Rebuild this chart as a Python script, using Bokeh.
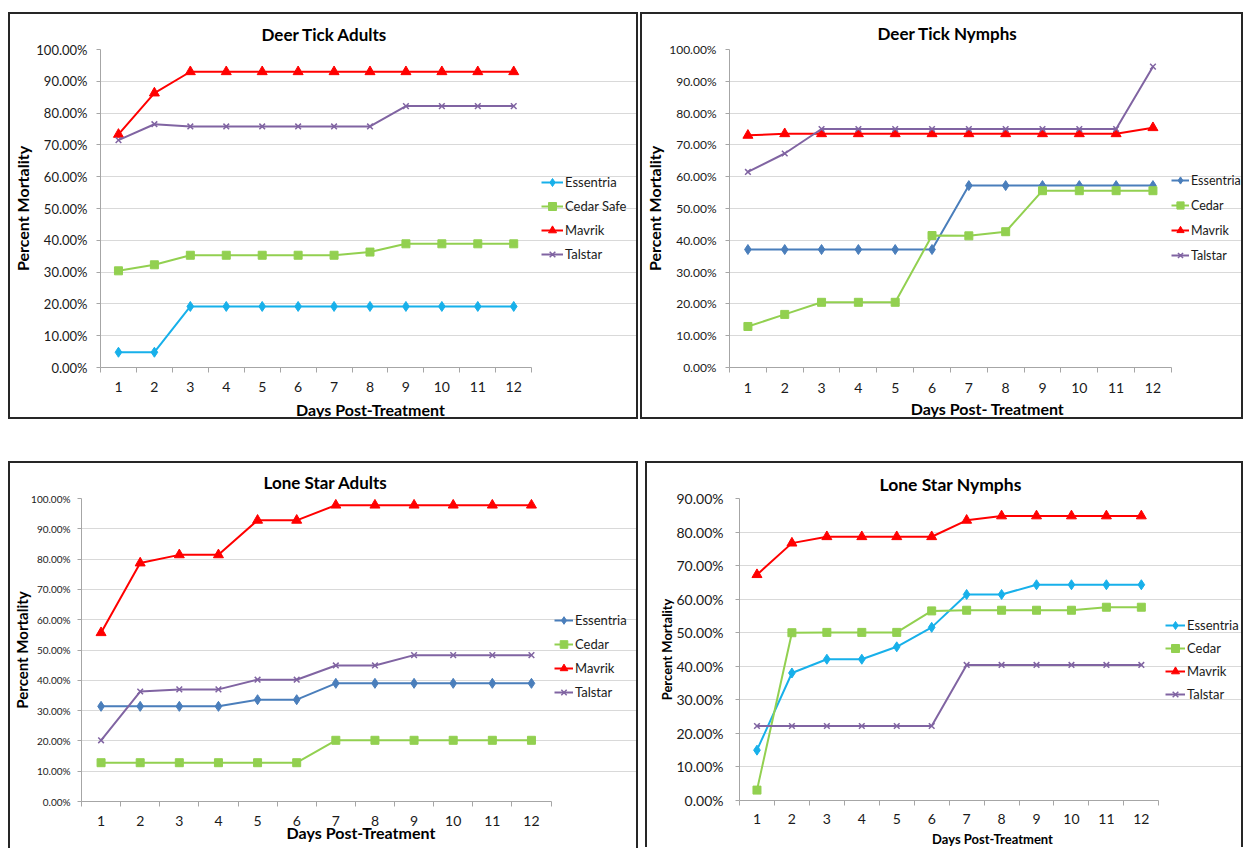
from bokeh.plotting import figure
from bokeh.models import Range1d, FixedTicker, PrintfTickFormatter, Legend, LegendItem, Spacer
from bokeh.layouts import row, column
from bokeh.embed import file_html
from bokeh.resources import INLINE

days = list(range(1, 13))
day_labels = [str(d) for d in days]

# Deer Tick Adults
dta_essentria = [4.8, 4.8, 19.2, 19.2, 19.2, 19.2, 19.2, 19.2, 19.2, 19.2, 19.2, 19.2]
dta_cedar = [30.4, 32.3, 35.3, 35.3, 35.3, 35.3, 35.3, 36.3, 38.9, 38.9, 38.9, 38.9]
dta_mavrik = [73.3, 86.3, 93.0, 93.0, 93.0, 93.0, 93.0, 93.0, 93.0, 93.0, 93.0, 93.0]
dta_talstar = [71.5, 76.5, 75.8, 75.8, 75.8, 75.8, 75.8, 75.8, 82.2, 82.2, 82.2, 82.2]

# Deer Tick Nymphs
dtn_essentria = [37.1, 37.1, 37.1, 37.1, 37.1, 37.1, 57.2, 57.2, 57.2, 57.2, 57.2, 57.2]
dtn_cedar = [12.9, 16.7, 20.5, 20.5, 20.5, 41.5, 41.4, 42.7, 55.6, 55.6, 55.6, 55.6]
dtn_mavrik = [73.0, 73.5, 73.5, 73.5, 73.5, 73.5, 73.5, 73.5, 73.5, 73.5, 73.5, 75.4]
dtn_talstar = [61.5, 67.3, 75.0, 75.0, 75.0, 75.0, 75.0, 75.0, 75.0, 75.0, 75.0, 94.6]

# Lone Star Adults
lsa_essentria = [31.4, 31.4, 31.4, 31.4, 33.6, 33.6, 39.0, 39.0, 39.0, 39.0, 39.0, 39.0]
lsa_cedar = [12.8, 12.8, 12.8, 12.8, 12.8, 12.8, 20.2, 20.2, 20.2, 20.2, 20.2, 20.2]
lsa_mavrik = [55.7, 78.7, 81.4, 81.4, 92.8, 92.8, 97.8, 97.8, 97.8, 97.8, 97.8, 97.8]
lsa_talstar = [20.2, 36.3, 37.0, 37.0, 40.2, 40.2, 44.9, 44.9, 48.3, 48.3, 48.3, 48.3]

# Lone Star Nymphs
lsn_essentria = [15.0, 38.0, 42.1, 42.1, 45.8, 51.6, 61.4, 61.4, 64.3, 64.3, 64.3, 64.3]
lsn_cedar = [3.1, 50.0, 50.1, 50.1, 50.1, 56.5, 56.7, 56.7, 56.7, 56.7, 57.6, 57.6]
lsn_mavrik = [67.3, 76.7, 78.6, 78.6, 78.6, 78.6, 83.5, 84.8, 84.8, 84.8, 84.8, 84.8]
lsn_talstar = [22.2, 22.2, 22.2, 22.2, 22.2, 22.2, 40.4, 40.4, 40.4, 40.4, 40.4, 40.4]

FONT = "Lato"
LIGHT_BLUE = "#17B0EA"
STEEL_BLUE = "#4A7EBB"
GREEN = "#92D050"
RED = "#FF0000"
PURPLE = "#8064A2"
AXIS_GRAY = "#A6A6A6"
GRID_GRAY = "#D9D9D9"

MARKERS = {"Essentria": ("diamond", 10), "Cedar": ("square", 8), "Mavrik": ("triangle", 10), "Talstar": ("x", 8)}


def make_panel(title, xlabel, series, ymax, w, h, mbl, mbt, mbb, data_w, title_fs, title_offset,
               title_standoff, ytick_fs, ytick_standoff, ylab_fs, ylab_standoff,
               xtick_fs, xtick_standoff, xlab_fs, xlab_standoff,
               legend_loc, legend_spacing, legend_fs, glyph_w, bottom_border=True):
    cw = w - 4
    ch = h - 4 if bottom_border else h - 2
    frame_w = cw - mbl
    x_end = 0.5 + 12.0 * frame_w / data_w
    p = figure(width=cw, height=ch, output_backend="svg", toolbar_location=None,
               x_range=Range1d(0.5, x_end), y_range=Range1d(0, ymax),
               min_border_left=mbl, min_border_right=0, min_border_top=mbt, min_border_bottom=mbb)
    border = {"border": "2px solid #262626", "box-sizing": "content-box"}
    if not bottom_border:
        border["border-bottom"] = "none"
    p.styles = border
    p.outline_line_color = None
    p.background_fill_color = "white"
    p.border_fill_color = "white"

    p.title.text = title
    p.title.align = "left"
    p.title.text_font = FONT
    p.title.text_font_style = "bold"
    p.title.text_font_size = title_fs
    p.title.text_color = "#000000"
    p.title.offset = title_offset
    p.title.standoff = title_standoff

    items = []
    for name, label, vals, color in series:
        marker, size = MARKERS[name]
        lr = p.line(days, vals, line_color=color, line_width=2)
        sr = p.scatter(days, vals, marker=marker, size=size, fill_color=color, line_color=color,
                       line_width=1.5 if marker == "x" else 1)
        items.append(LegendItem(label=label, renderers=[lr, sr]))

    # x axis
    xa = p.xaxis[0]
    xa.bounds = (0.5, 12.5)
    xa.ticker = FixedTicker(ticks=days, minor_ticks=[d + 0.5 for d in range(0, 13)])
    xa.major_label_overrides = {d: s for d, s in zip(days, day_labels)}
    xa.major_tick_line_color = None
    xa.major_tick_out = 0
    xa.major_tick_in = 0
    xa.minor_tick_line_color = AXIS_GRAY
    xa.minor_tick_out = 5
    xa.minor_tick_in = 0
    xa.axis_line_color = AXIS_GRAY
    xa.major_label_text_font = FONT
    xa.major_label_text_font_size = xtick_fs
    xa.major_label_text_color = "#1a1a1a"
    xa.major_label_standoff = xtick_standoff
    xa.axis_label = xlabel
    xa.axis_label_text_font = FONT
    xa.axis_label_text_font_style = "bold"
    xa.axis_label_text_font_size = xlab_fs
    xa.axis_label_text_color = "#000000"
    xa.axis_label_standoff = xlab_standoff

    # y axis
    ya = p.yaxis[0]
    ya.ticker = FixedTicker(ticks=list(range(0, ymax + 1, 10)))
    ya.formatter = PrintfTickFormatter(format="%.2f%%")
    ya.major_tick_line_color = AXIS_GRAY
    ya.major_tick_out = 4
    ya.major_tick_in = 0
    ya.minor_tick_line_color = None
    ya.axis_line_color = AXIS_GRAY
    ya.major_label_text_font = FONT
    ya.major_label_text_font_size = ytick_fs
    ya.major_label_text_color = "#1a1a1a"
    ya.major_label_standoff = ytick_standoff
    ya.axis_label = "Percent Mortality"
    ya.axis_label_text_font = FONT
    ya.axis_label_text_font_style = "bold"
    ya.axis_label_text_font_size = ylab_fs
    ya.axis_label_text_color = "#000000"
    ya.axis_label_standoff = ylab_standoff

    p.xgrid.visible = False
    p.ygrid.grid_line_color = GRID_GRAY
    p.ygrid.grid_line_width = 1
    p.ygrid.bounds = (0.5, 12.5)

    legend = Legend(items=items, location=legend_loc, orientation="vertical",
                    border_line_color=None, background_fill_alpha=0,
                    padding=0, margin=0, spacing=legend_spacing,
                    glyph_width=glyph_w, glyph_height=20, label_height=20, label_standoff=2,
                    label_text_font=FONT, label_text_font_size=legend_fs, label_text_color="#1a1a1a")
    p.add_layout(legend, "center")
    return p


p1 = make_panel("Deer Tick Adults", "Days Post-Treatment",
                [("Essentria", "Essentria", dta_essentria, LIGHT_BLUE),
                 ("Cedar", "Cedar Safe", dta_cedar, GREEN),
                 ("Mavrik", "Mavrik", dta_mavrik, RED),
                 ("Talstar", "Talstar", dta_talstar, PURPLE)],
                100, 630, 407, 90, 34, 54, 428, "17px", 161, 10,
                "13px", 9, "16px", 1, "14px", 9, "16px", 5,
                (441, 103), 4, "13px", 22)

p2 = make_panel("Deer Tick Nymphs", "Days Post- Treatment",
                [("Essentria", "Essentria", dtn_essentria, STEEL_BLUE),
                 ("Cedar", "Cedar", dtn_cedar, GREEN),
                 ("Mavrik", "Mavrik", dtn_mavrik, RED),
                 ("Talstar", "Talstar", dtn_talstar, PURPLE)],
                100, 603, 407, 84, 35, 54, 441, "17px", 148, 11,
                "12px", 9, "16px", 2, "14px", 10, "16px", 3,
                (442, 102), 5, "12.5px", 18)

p3 = make_panel("Lone Star Adults", "Days Post-Treatment",
                [("Essentria", "Essentria", lsa_essentria, STEEL_BLUE),
                 ("Cedar", "Cedar", lsa_cedar, GREEN),
                 ("Mavrik", "Mavrik", lsa_mavrik, RED),
                 ("Talstar", "Talstar", lsa_talstar, PURPLE)],
                100, 630, 387, 70, 35, 38, 467, "17px", 182, 11,
                "10px", 7, "15px", -3, "14px", 9, "16px", -6,
                (473, 99), 4, "13px", 19, bottom_border=False)

p4 = make_panel("Lone Star Nymphs", "Days Post-Treatment",
                [("Essentria", "Essentria", lsn_essentria, LIGHT_BLUE),
                 ("Cedar", "Cedar", lsn_cedar, GREEN),
                 ("Mavrik", "Mavrik", lsn_mavrik, RED),
                 ("Talstar", "Talstar", lsn_talstar, PURPLE)],
                90, 598, 386, 92, 31, 49, 416, "17.5px", 140, 7,
                "14px", 12, "13px", -2, "14px", 8, "13px", 4,
                (426, 96), 3, "13px", 20, bottom_border=False)

grid = column(row(p1, p2, spacing=2), row(p3, p4, spacing=7), spacing=42)
layout = row(Spacer(width=8, height=10), column(Spacer(width=10, height=12), grid, spacing=0), spacing=0)

open("out.html", "w").write(file_html(layout, INLINE))
